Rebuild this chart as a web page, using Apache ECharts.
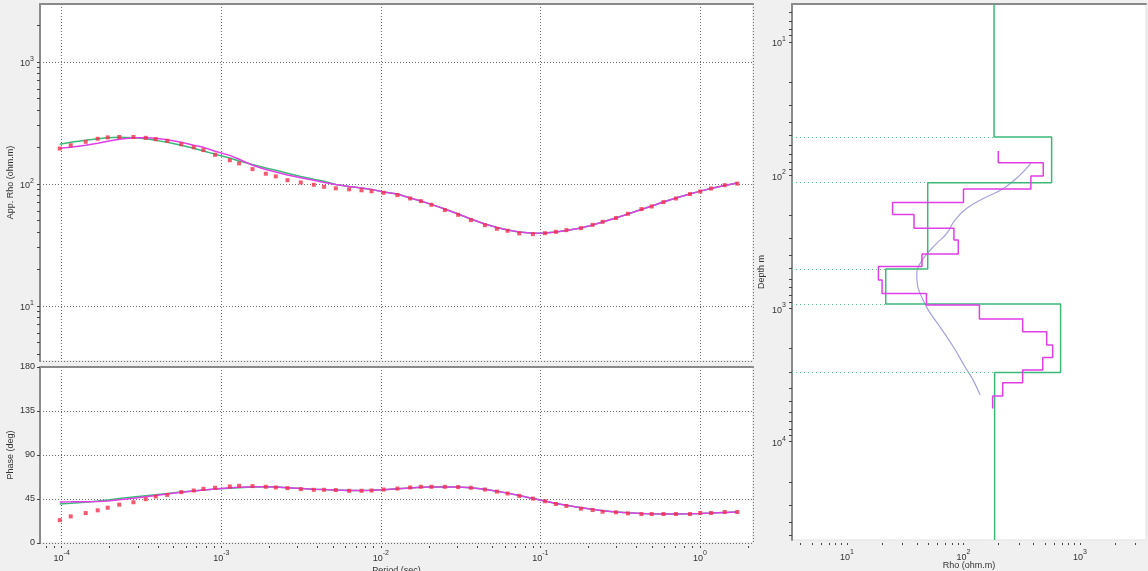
<!DOCTYPE html>
<html><head><meta charset="utf-8">
<script src="https://cdn.jsdelivr.net/npm/echarts@6/dist/echarts.min.js"></script>
<style>html,body{margin:0;padding:0;background:#f0f0f0;}#c{width:1148px;height:571px;}</style>
</head><body><div id="c"></div>
<script>
// ---- sounding curves (period in s) ----
const periods = [9.72e-5,1.139e-4,1.414e-4,1.681e-4,1.942e-4,2.294e-4,2.815e-4,3.362e-4,3.884e-4,4.586e-4,5.613e-4,6.723e-4,7.733e-4,9.144e-4,1.131e-3,1.293e-3,1.569e-3,1.901e-3,2.196e-3,2.600e-3,3.150e-3,3.801e-3,4.410e-3,5.222e-3,6.327e-3,7.568e-3,8.743e-3,1.040e-2,1.269e-2,1.527e-2,1.781e-2,2.073e-2,2.518e-2,3.051e-2,3.665e-2,4.487e-2,5.336e-2,6.229e-2,7.364e-2,8.974e-2,0.1067,0.1251,0.1455,0.1794,0.2125,0.2455,0.2974,0.3537,0.4297,0.4980,0.5904,0.7071,0.8655,1.004,1.172,1.429,1.714];
const rhoObs = [194.6,207,221,234,240,242,242,238,232,225,211,199,189,173,156,147,132,121,115,107,102.5,98.2,94.5,91.8,90.1,88.5,86.9,84.4,80.8,75.8,72.1,67.3,60.9,55.7,50.4,45.8,42.8,41.2,39.2,38.7,39.4,40.4,41.7,43.3,46.1,48.8,52.4,56.8,62.1,65.2,70.8,75.8,82.4,86.5,91.5,97.5,100.4];
const phaseObs = [23.4,27.2,30.6,33.4,36.1,39.2,41.7,44.8,47.5,49.2,52.0,53.7,55.4,56.5,57.8,58.5,58.2,57.5,56.8,56.1,55.1,54.4,54.4,54.1,53.4,53.4,53.7,54.7,55.7,56.8,57.5,57.5,57.5,57.2,56.5,54.7,52.6,50.6,48.2,45.4,42.7,39.9,37.9,35.1,33.7,32.0,31.4,30.3,29.6,29.6,29.6,29.6,29.6,30.7,30.7,31.7,31.7];
const rhoOccamResp = [195.5,199,207,215,223,232,238,238,236,230,219,207,199,185,171,159,142,131,125,118,112,107,102.6,98.8,95.2,92.5,90,85.8,82.6,76.6,72.4,67.8,62.2,56.6,51.5,46.8,43.9,41.8,40.3,39.4,39.5,40.3,41.4,43.4,45.9,48.6,52.5,56.6,61.6,65.8,71,76.6,82.6,87.1,91.6,97,101.4];
const phaseOccamResp = [42.0,42.1,42.3,42.5,43.0,44.2,45.8,47.4,48.5,50.0,51.8,53.2,54.2,55.3,56.4,57.0,57.5,57.5,57.2,56.6,55.8,55.0,54.6,54.2,53.8,53.7,53.9,54.5,55.4,56.3,56.9,57.3,57.4,57.2,56.5,55.0,53.0,51.0,48.5,45.6,42.9,40.5,38.5,36.0,34.4,33.1,31.8,30.9,30.2,29.9,29.7,29.7,29.9,30.2,30.6,31.2,31.7];
const rhoLayerResp = [211,219,227,234,238,241,238,234,227,219,207,195.5,186,175,163,154,144,135,129,122,115,109,105,98.8,95.2,92.5,90,85.8,82.6,76.6,72.4,67.8,62.2,56.6,51.5,46.8,43.9,41.8,40.3,39.4,39.5,40.3,41.4,43.4,45.9,48.6,52.5,56.6,61.6,65.8,71,76.6,82.6,87.1,91.6,97,101.4];
const phaseLayerResp = [39.8,40.6,41.8,42.9,44.0,45.4,47.0,48.4,49.4,50.6,52.1,53.3,54.2,55.1,56.0,56.6,57.2,57.5,57.2,56.6,55.8,55.0,54.6,54.2,53.8,53.7,53.9,54.5,55.4,56.3,56.9,57.3,57.4,57.2,56.5,55.0,53.0,51.0,48.5,45.6,42.9,40.5,38.5,36.0,34.4,33.1,31.8,30.9,30.2,29.9,29.7,29.7,29.9,30.2,30.6,31.2,31.7];
// ---- models ----
const layerRho = [183,571,49.3,21.5,682,185];
const layerBottoms = [51.7,114,507,925,3020];
const occamRho = [199,484,379,100,24.6,37.6,82.8,90.2,44,18.6,20,48.1,137,322,518,583,479,322,217,178];
const occamEdges = [66.1,80.9,101.7,127.4,160.3,197.8,251,307,391,486,613,772,944,1202,1498,1885,2332,2904,3614,4549,5623];
const bostickDepth = [81.7,100,126,150,178,218,274,325,387,460,546,650,818,1030,1375,1941,2742,3452,4470];
const bostickRho = [378,305,220,148,106,84.5,71.8,58.9,48.9,42.4,39.7,40.1,43.7,49.9,62.8,81.7,103,121,139];
// ---- axis ranges / ticks ----
const periodRange = [7.31e-5, 2.15];
const rhoRange = [3.53, 2976];
const phaseRange = [0, 180];
const phaseStep = 45;
const modelRhoRange = [3.37, 3690];
const depthRange = [5.21, 54600];

const FONT = 'Liberation Sans';
const TXT = '#333';
const pairs = (xs, ys) => xs.map((x, i) => [x, ys[i]]);
function logTicks(lo, hi) {
  const out = [];
  for (let e = Math.floor(Math.log10(lo)); e <= Math.ceil(Math.log10(hi)); e++)
    for (let m = 1; m < 10; m++) { const v = m * Math.pow(10, e); if (v >= lo && v <= hi) out.push(v); }
  return out;
}
function stepPath(rhos, edges) {
  const pts = [];
  rhos.forEach((r, i) => { pts.push([r, edges[i]]); pts.push([r, edges[i + 1]]); });
  return pts;
}
const supFmt = v => { const e = Math.round(Math.log10(v)); return '{b|10}{s|' + e + '}'; };
const rich = {
  b: { fontSize: 9, color: TXT, fontFamily: FONT, lineHeight: 13, verticalAlign: 'bottom' },
  s: { fontSize: 7, color: TXT, fontFamily: FONT, lineHeight: 8, verticalAlign: 'top' }
};
const gridLine = { show: true, lineStyle: { color: '#6e6e6e', type: [1, 2], width: 1 } };
const border = { show: true, onZero: false, lineStyle: { color: '#8a8a8a', width: 2 } };
const noLine = { show: false, onZero: false };
const nameStyle = { fontSize: 9, color: TXT, fontFamily: FONT };
const tickStyle = { color: '#444', width: 1 };

const greenC = '#3cb878', magC = '#e03ee6', redC = '#f0304c', lavC = '#a2a2dc';
const gridBase = { show: true, backgroundColor: '#fff', borderWidth: 1, borderColor: '#e2e2e2', containLabel: false, outerBoundsMode: 'none' };

const chart = echarts.init(document.getElementById('c'), null, { renderer: 'canvas' });
chart.setOption({
  animation: false,
  backgroundColor: '#f0f0f0',
  grid: [
    Object.assign({ left: 40, top: 4, width: 713, height: 357 }, gridBase),
    Object.assign({ left: 40, top: 367, width: 713, height: 176 }, gridBase),
    Object.assign({ left: 792, top: 4, width: 354, height: 536 }, gridBase)
  ],
  xAxis: [
    { gridIndex: 0, type: 'log', position: 'bottom', min: periodRange[0], max: periodRange[1], axisLine: noLine, axisTick: { show: false }, axisLabel: { show: false }, splitLine: gridLine },
    { gridIndex: 1, type: 'log', position: 'bottom', min: periodRange[0], max: periodRange[1], axisLine: noLine, axisTick: { show: false },
      axisLabel: { formatter: supFmt, rich, margin: 7, showMinLabel: false, showMaxLabel: false },
      splitLine: gridLine, name: 'Period (sec)', nameLocation: 'middle', nameGap: 23, nameMoveOverlap: false, nameTextStyle: nameStyle },
    { gridIndex: 1, type: 'log', position: 'bottom', offset: 3, min: periodRange[0], max: periodRange[1], axisLine: noLine,
      axisTick: { show: true, customValues: logTicks(periodRange[0], periodRange[1]), length: 2, lineStyle: tickStyle }, axisLabel: { show: false }, splitLine: { show: false } },
    { gridIndex: 2, type: 'log', position: 'bottom', min: modelRhoRange[0], max: modelRhoRange[1], axisLine: noLine, axisTick: { show: false },
      axisLabel: { formatter: supFmt, rich, margin: 9, showMinLabel: false, showMaxLabel: false },
      splitLine: { show: false }, name: 'Rho (ohm.m)', nameLocation: 'middle', nameGap: 21, nameMoveOverlap: false, nameTextStyle: nameStyle },
    { gridIndex: 2, type: 'log', position: 'bottom', offset: 3, min: modelRhoRange[0], max: modelRhoRange[1], axisLine: noLine,
      axisTick: { show: true, customValues: logTicks(modelRhoRange[0], modelRhoRange[1]), length: 2, lineStyle: tickStyle }, axisLabel: { show: false }, splitLine: { show: false } },
    { gridIndex: 0, type: 'log', position: 'top', min: periodRange[0], max: periodRange[1], axisLine: border, axisTick: { show: false }, axisLabel: { show: false }, splitLine: { show: false } },
    { gridIndex: 1, type: 'log', position: 'top', min: periodRange[0], max: periodRange[1], axisLine: border, axisTick: { show: false }, axisLabel: { show: false }, splitLine: { show: false } },
    { gridIndex: 2, type: 'log', position: 'top', min: modelRhoRange[0], max: modelRhoRange[1], axisLine: border, axisTick: { show: false }, axisLabel: { show: false }, splitLine: { show: false } }
  ],
  yAxis: [
    { gridIndex: 0, type: 'log', position: 'left', min: rhoRange[0], max: rhoRange[1], axisLine: border, axisTick: { show: false },
      axisLabel: { formatter: supFmt, rich, margin: 6, showMinLabel: false, showMaxLabel: false },
      splitLine: gridLine, name: 'App. Rho (ohm.m)', nameLocation: 'middle', nameGap: 25, nameRotate: 90, nameMoveOverlap: false, nameTextStyle: nameStyle },
    { gridIndex: 0, type: 'log', position: 'left', min: rhoRange[0], max: rhoRange[1], axisLine: noLine,
      axisTick: { show: true, customValues: logTicks(rhoRange[0], rhoRange[1]), length: 3, lineStyle: tickStyle }, axisLabel: { show: false }, splitLine: { show: false } },
    { gridIndex: 1, type: 'value', position: 'left', min: phaseRange[0], max: phaseRange[1], interval: phaseStep, axisLine: border,
      axisTick: { show: true, length: 3, lineStyle: tickStyle },
      axisLabel: { fontSize: 9, color: TXT, fontFamily: FONT, margin: 5 },
      splitLine: gridLine, name: 'Phase (deg)', nameLocation: 'middle', nameGap: 25, nameRotate: 90, nameMoveOverlap: false, nameTextStyle: nameStyle },
    { gridIndex: 2, type: 'log', position: 'left', inverse: true, min: depthRange[0], max: depthRange[1], axisLine: border, axisTick: { show: false },
      axisLabel: { formatter: supFmt, rich, margin: 6, showMinLabel: false, showMaxLabel: false },
      splitLine: { show: false }, name: 'Depth m', nameLocation: 'middle', nameGap: 26, nameRotate: 90, nameMoveOverlap: false, nameTextStyle: nameStyle },
    { gridIndex: 2, type: 'log', position: 'left', inverse: true, min: depthRange[0], max: depthRange[1], axisLine: noLine,
      axisTick: { show: true, customValues: logTicks(depthRange[0], depthRange[1]), length: 3, lineStyle: tickStyle }, axisLabel: { show: false }, splitLine: { show: false } }
  ],
  series: [
    { name: 'rho layered', type: 'line', xAxisIndex: 0, yAxisIndex: 0, data: pairs(periods, rhoLayerResp), showSymbol: false, lineStyle: { color: greenC, width: 1.5 }, z: 3 },
    { name: 'rho occam', type: 'line', xAxisIndex: 0, yAxisIndex: 0, data: pairs(periods, rhoOccamResp), showSymbol: false, lineStyle: { color: magC, width: 1.5 }, z: 4 },
    { name: 'rho obs', type: 'scatter', xAxisIndex: 0, yAxisIndex: 0, data: pairs(periods, rhoObs), symbol: 'rect', symbolSize: 4, itemStyle: { color: redC }, z: 5 },
    { name: 'phase layered', type: 'line', xAxisIndex: 1, yAxisIndex: 2, data: pairs(periods, phaseLayerResp), showSymbol: false, lineStyle: { color: greenC, width: 1.5 }, z: 3 },
    { name: 'phase occam', type: 'line', xAxisIndex: 1, yAxisIndex: 2, data: pairs(periods, phaseOccamResp), showSymbol: false, lineStyle: { color: magC, width: 1.5 }, z: 4 },
    { name: 'phase obs', type: 'scatter', xAxisIndex: 1, yAxisIndex: 2, data: pairs(periods, phaseObs), symbol: 'rect', symbolSize: 4, itemStyle: { color: redC }, z: 5 },
    { name: 'bostick', type: 'line', xAxisIndex: 3, yAxisIndex: 3, data: pairs(bostickRho, bostickDepth), smooth: true, showSymbol: false, lineStyle: { color: lavC, width: 1.2 }, z: 3 },
    { name: 'layered model', type: 'line', xAxisIndex: 3, yAxisIndex: 3,
      data: stepPath(layerRho, [depthRange[0], ...layerBottoms, depthRange[1]]), showSymbol: false, lineStyle: { color: greenC, width: 1.5 }, z: 4,
      markLine: { silent: true, symbol: ['none', 'none'], label: { show: false }, lineStyle: { color: '#5cc48e', type: [1, 3], width: 1 },
        data: layerBottoms.map((d, i) => [{ coord: [modelRhoRange[0], d] }, { coord: [Math.min(layerRho[i], layerRho[i + 1]), d] }]) } },
    { name: 'occam model', type: 'line', xAxisIndex: 3, yAxisIndex: 3, data: stepPath(occamRho, occamEdges), showSymbol: false, lineStyle: { color: magC, width: 1.5 }, z: 5 }
  ]
});
</script></body></html>
